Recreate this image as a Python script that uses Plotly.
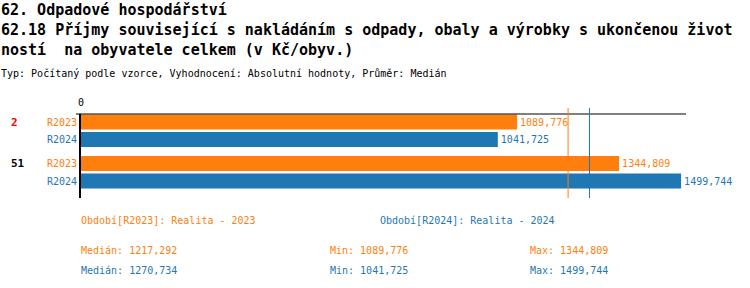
import plotly.graph_objects as go

# ---- data ----
groups = ["2", "51"]
group_colors = ["#ff0000", "#000000"]
series_names = ["R2023", "R2024"]
series_colors = ["#ff7f0e", "#1f77b4"]
values_r2023 = [1089.776, 1344.809]
values_r2024 = [1041.725, 1499.744]
medians = [1217.292, 1270.734]
mins = [1089.776, 1041.725]
maxs = [1344.809, 1499.744]
period_labels = ["Období[R2023]: Realita - 2023", "Období[R2024]: Realita - 2024"]

title_lines = [
    "62. Odpadové hospodářství",
    "62.18 Příjmy související s nakládáním s odpady, obaly a výrobky s ukončenou život",
    "ností  na obyvatele celkem (v Kč/obyv.)",
]
subtitle = "Typ: Počítaný podle vzorce, Vyhodnocení: Absolutní hodnoty, Průměr: Medián"

FONT = "DejaVu Sans Mono"

def fmt(v):
    return f"{v:.3f}".replace(".", ",")

# ---- layout geometry (pixels) ----
W, H = 750, 288
L, R, T, B = 81, 686, 114, 198
pw, ph = R - L, B - T

def px(x):
    return (x - L) / pw

def py(y):
    return (B - y) / ph

group_gap = 1.37
pos23 = [i * (1 + group_gap) for i in range(len(groups))]
pos24 = [p + 1 for p in pos23]

fig = go.Figure()
all_vals = [values_r2023, values_r2024]
all_pos = [pos23, pos24]
for name, col, vals, pos in zip(series_names, series_colors, all_vals, all_pos):
    fig.add_trace(go.Bar(
        x=vals, y=pos, orientation="h", name=name,
        marker=dict(color=col, line=dict(width=0)),
        width=0.86,
        text=[fmt(v) for v in vals], textposition="outside",
        textfont=dict(family=FONT, size=10, color=col),
        cliponaxis=False, constraintext="none",
    ))

tickvals = []
ticktext = []
for i in range(len(groups)):
    for name, col, pos in zip(series_names, series_colors, all_pos):
        tickvals.append(pos[i])
        ticktext.append(f"<span style='color:{col}'>{name}</span>")

fig.update_layout(
    width=W, height=H,
    margin=dict(l=L, r=W - R, t=T, b=H - B, pad=0),
    paper_bgcolor="white", plot_bgcolor="white",
    showlegend=False,
    barmode="overlay",
    font=dict(family=FONT, size=10, color="#000"),
    xaxis=dict(range=[0, 1512], side="top", tickvals=[0], ticktext=["0"],
               showgrid=False, zeroline=False, showline=False, ticks="",
               ticklabelstandoff=5,
               tickfont=dict(family=FONT, size=10, color="#000")),
    yaxis=dict(range=[4.34, -0.46], tickvals=tickvals, ticktext=ticktext,
               showgrid=False, zeroline=False, showline=True, linecolor="#000",
               linewidth=2, ticks="", tickfont=dict(family=FONT, size=10)),
)

shapes = []
# top horizontal line
shapes.append(dict(type="line", xref="paper", yref="paper", x0=px(76), x1=1, y0=1, y1=1,
                   line=dict(color="#000", width=1)))
for m, col in zip(medians, series_colors):
    shapes.append(dict(type="line", xref="x", yref="paper", x0=m, x1=m, y0=0, y1=py(108),
                       line=dict(color=col, width=1)))
fig.update_layout(shapes=shapes)

ann = []
def add(text, x, y, size=10, color="#000", bold=False, xanchor="left"):
    t = f"<b>{text}</b>" if bold else text
    ann.append(dict(text=t, x=px(x), y=py(y), xref="paper", yref="paper",
                    xanchor=xanchor, yanchor="middle", showarrow=False,
                    font=dict(family=FONT, size=size, color=color), borderpad=0))

for i, line in enumerate(title_lines):
    add(line, 0, 10 + 20 * i, size=15, bold=True)
add(subtitle, 0, 73, size=10)

for g, c, p in zip(groups, group_colors, pos23):
    ann.append(dict(text=f"<b>{g}</b>", x=px(9), y=p, xref="paper", yref="y",
                    xanchor="left", yanchor="middle", showarrow=False,
                    font=dict(family=FONT, size=11, color=c)))

add(period_labels[0], 80, 220, color=series_colors[0])
add(period_labels[1], 379, 220, color=series_colors[1])
for i, (col, yy) in enumerate(zip(series_colors, [250, 270])):
    add(f"Medián: {fmt(medians[i])}", 80, yy, color=col)
    add(f"Min: {fmt(mins[i])}", 329, yy, color=col)
    add(f"Max: {fmt(maxs[i])}", 529, yy, color=col)

fig.update_layout(annotations=ann)
fig.write_html("out.html")
